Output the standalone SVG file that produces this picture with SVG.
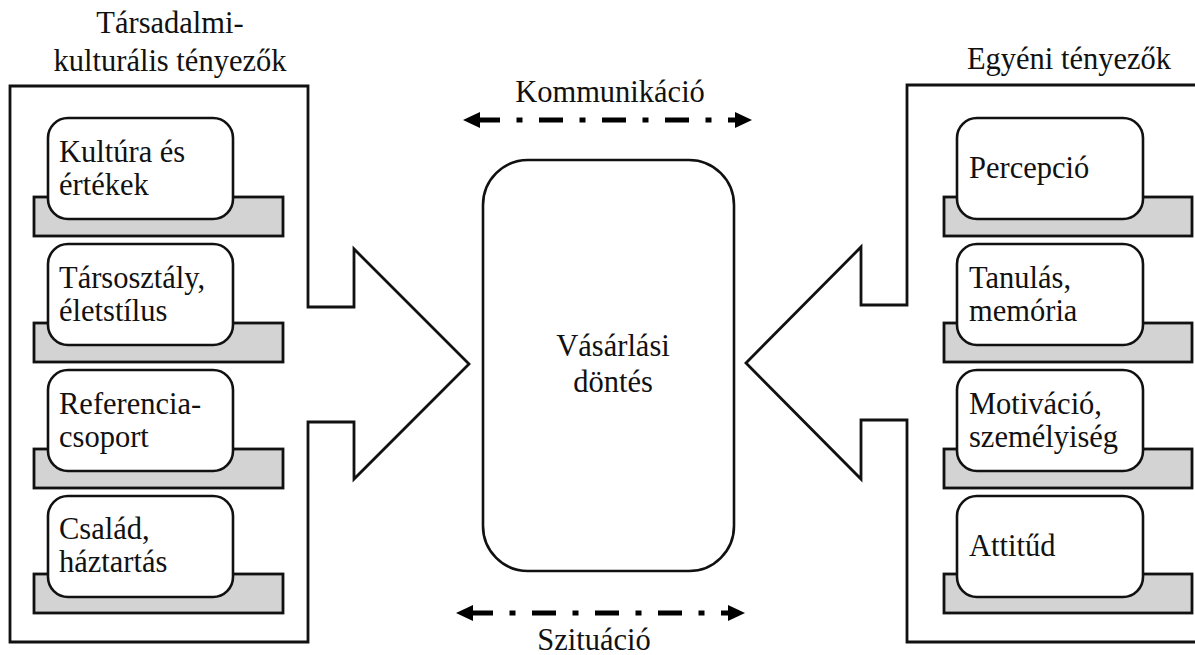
<svg xmlns="http://www.w3.org/2000/svg" width="1195" height="655" viewBox="0 0 1195 655" font-family="serif">
  <defs>
    <marker id="head" markerUnits="userSpaceOnUse" markerWidth="20" markerHeight="18"
            refX="0" refY="8" orient="auto-start-reverse" viewBox="0 0 20 16">
      <path d="M0,0 L17,8 L0,16 Z" fill="#000"/>
    </marker>
  </defs>

  <!-- social / cultural frame with its arrow -->
  <g id="social-frame">
    <polygon fill="#fff" stroke="#111" stroke-width="2.8" points="10,86 308,86 308,307 354,307 354,249 469,364 354,479 354,422 308,422 308,642 10,642"/>
    <text font-family="serif" font-size="30.5" fill="#111" text-anchor="middle" x="170" y="33">Társadalmi-</text>
    <text font-family="serif" font-size="30.5" fill="#111" text-anchor="middle" x="170" y="71">kulturális tényezők</text>
  </g>

  <!-- individual frame with its arrow -->
  <g id="individual-frame">
    <polygon fill="#fff" stroke="#111" stroke-width="2.8" points="1200,85 907,85 907,305 861,305 861,247 746,363 861,479 861,420 907,420 907,642 1200,642"/>
    <text font-family="serif" font-size="30.5" fill="#111" text-anchor="middle" x="1069" y="69">Egyéni tényezők</text>
  </g>

  <!-- left column: grey base plate under each rounded card -->
  <g id="kultura">
    <rect fill="#d3d3d3" stroke="#111" stroke-width="2.8" x="34" y="197" width="249" height="39"/>
    <rect fill="#fff" stroke="#111" stroke-width="2.6" x="48" y="118" width="185" height="101" rx="20"/>
    <text font-family="serif" font-size="30.5" fill="#111" x="59" y="162">Kultúra és</text>
    <text font-family="serif" font-size="30.5" fill="#111" x="59" y="195">értékek</text>
  </g>
  <g id="tarsosztaly">
    <rect fill="#d3d3d3" stroke="#111" stroke-width="2.8" x="34" y="323" width="249" height="39"/>
    <rect fill="#fff" stroke="#111" stroke-width="2.6" x="48" y="244" width="185" height="101" rx="20"/>
    <text font-family="serif" font-size="30.5" fill="#111" x="59" y="288">Társosztály,</text>
    <text font-family="serif" font-size="30.5" fill="#111" x="59" y="321">életstílus</text>
  </g>
  <g id="referencia">
    <rect fill="#d3d3d3" stroke="#111" stroke-width="2.8" x="34" y="449" width="249" height="39"/>
    <rect fill="#fff" stroke="#111" stroke-width="2.6" x="48" y="370" width="185" height="101" rx="20"/>
    <text font-family="serif" font-size="30.5" fill="#111" x="59" y="414">Referencia-</text>
    <text font-family="serif" font-size="30.5" fill="#111" x="59" y="447">csoport</text>
  </g>
  <g id="csalad">
    <rect fill="#d3d3d3" stroke="#111" stroke-width="2.8" x="34" y="574" width="249" height="39"/>
    <rect fill="#fff" stroke="#111" stroke-width="2.6" x="48" y="496" width="185" height="101" rx="20"/>
    <text font-family="serif" font-size="30.5" fill="#111" x="59" y="539">Család,</text>
    <text font-family="serif" font-size="30.5" fill="#111" x="59" y="572">háztartás</text>
  </g>

  <!-- right column -->
  <g id="percepcio">
    <rect fill="#d3d3d3" stroke="#111" stroke-width="2.8" x="944" y="197" width="248" height="39"/>
    <rect fill="#fff" stroke="#111" stroke-width="2.6" x="957" y="118" width="186" height="101" rx="20"/>
    <text font-family="serif" font-size="30.5" fill="#111" x="969" y="178">Percepció</text>
  </g>
  <g id="tanulas">
    <rect fill="#d3d3d3" stroke="#111" stroke-width="2.8" x="944" y="323" width="248" height="39"/>
    <rect fill="#fff" stroke="#111" stroke-width="2.6" x="957" y="244" width="186" height="101" rx="20"/>
    <text font-family="serif" font-size="30.5" fill="#111" x="969" y="288">Tanulás,</text>
    <text font-family="serif" font-size="30.5" fill="#111" x="969" y="321">memória</text>
  </g>
  <g id="motivacio">
    <rect fill="#d3d3d3" stroke="#111" stroke-width="2.8" x="944" y="449" width="248" height="39"/>
    <rect fill="#fff" stroke="#111" stroke-width="2.6" x="957" y="370" width="186" height="101" rx="20"/>
    <text font-family="serif" font-size="30.5" fill="#111" x="969" y="414">Motiváció,</text>
    <text font-family="serif" font-size="30.5" fill="#111" x="969" y="447">személyiség</text>
  </g>
  <g id="attitud">
    <rect fill="#d3d3d3" stroke="#111" stroke-width="2.8" x="944" y="574" width="248" height="39"/>
    <rect fill="#fff" stroke="#111" stroke-width="2.6" x="957" y="496" width="186" height="101" rx="20"/>
    <text font-family="serif" font-size="30.5" fill="#111" x="969" y="556">Attitűd</text>
  </g>

  <!-- central decision -->
  <g id="vasarlasi-dontes">
    <rect fill="#fff" stroke="#111" stroke-width="2.6" x="483" y="160" width="251" height="411" rx="45"/>
    <text font-family="serif" font-size="30.5" fill="#111" text-anchor="middle" x="613" y="356">Vásárlási</text>
    <text font-family="serif" font-size="30.5" fill="#111" text-anchor="middle" x="613" y="392">döntés</text>
  </g>

  <!-- two-way dash-dot flows -->
  <g id="connectors">
    <line fill="none" stroke="#000" stroke-width="5" stroke-dasharray="24 16.5 6 16.5" stroke-dashoffset="4"
          marker-start="url(#head)" marker-end="url(#head)" x1="480" y1="120" x2="735" y2="120"/>
    <text font-family="serif" font-size="30.5" fill="#111" text-anchor="middle" x="610" y="102">Kommunikáció</text>
    <line fill="none" stroke="#000" stroke-width="5" stroke-dasharray="24 16.5 6 16.5" stroke-dashoffset="4"
          marker-start="url(#head)" marker-end="url(#head)" x1="473" y1="613" x2="728" y2="613"/>
    <text font-family="serif" font-size="30.5" fill="#111" text-anchor="middle" x="594" y="650">Szituáció</text>
  </g>
</svg>
